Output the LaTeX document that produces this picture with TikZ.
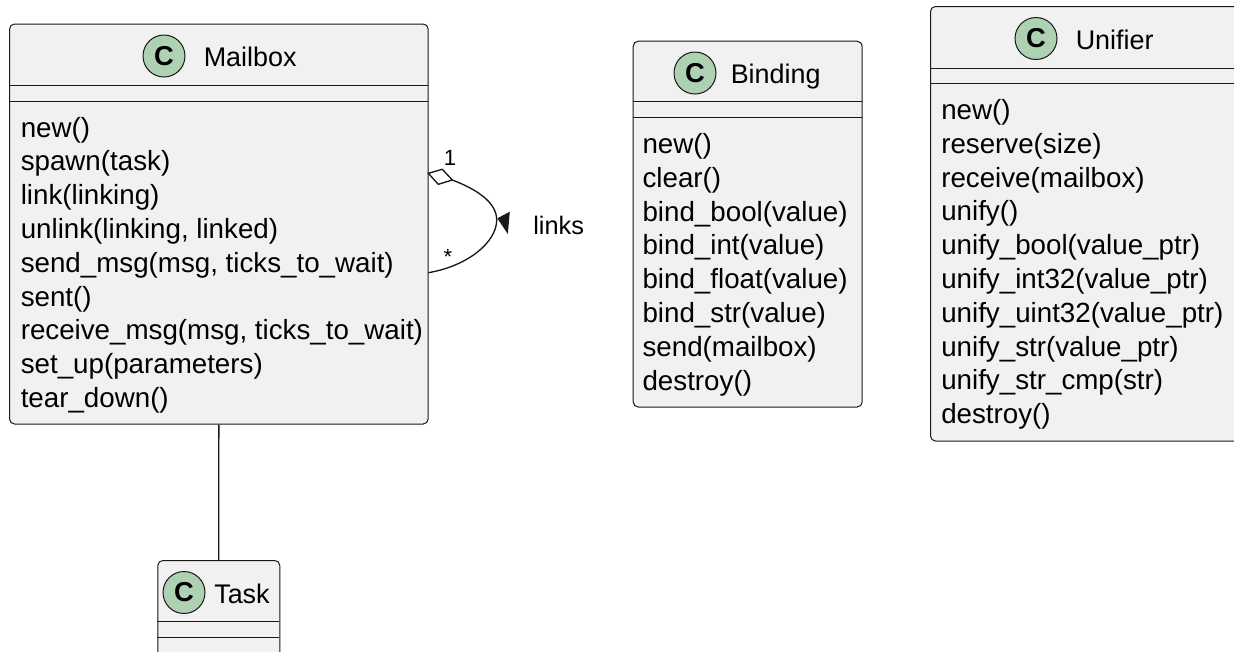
\documentclass[tikz,border=0pt]{standalone}
\usepackage{fontspec}
\setmainfont{Liberation Sans}
\definecolor{boxfill}{HTML}{F1F1F1}
\definecolor{boxline}{HTML}{181818}
\definecolor{spot}{HTML}{ADD1B2}
\begin{document}
\begin{tikzpicture}[x=0.75pt,y=-0.75pt,
  clsbox/.style={draw=boxline,fill=boxfill,line width=0.75pt,rounded corners=3.75pt,
    rectangle,anchor=north west,inner sep=0pt},
  sepline/.style={draw=boxline,line width=0.75pt},
  spotc/.style={circle,draw=boxline,fill=spot,line width=0.75pt,minimum size=31.5pt,inner sep=0pt,
    font=\bfseries\fontsize{20.5}{20.5}\selectfont},
  ttl/.style={anchor=base west,inner sep=0pt,font=\fontsize{20.2}{24}\selectfont,text=black},
  meth/.style={anchor=base west,inner sep=0pt,font=\fontsize{20.8}{24}\selectfont,text=black},
  conn/.style={draw=boxline,line width=1pt},
  lbl/.style={inner sep=0pt,text=black}]
\useasboundingbox (0,0) rectangle (1234,651);
\clip (0,0) rectangle (1234,651);
% Mailbox
\node[clsbox,minimum width=314pt,minimum height=300pt] (mailbox) at (9,23.5) {};
\node[spotc] (cm) at (164,56) {C};
\node[ttl] (tm) at (203.5,66.5) {Mailbox};
\draw[sepline] (9,85.7) -- (427.7,85.7);
\draw[sepline] (9,101) -- (427.7,101);
\foreach \t [count=\i from 0] in {new(),spawn(task),link(linking),{unlink(linking, linked)},
  {send\_msg(msg, ticks\_to\_wait)},sent(),{receive\_msg(msg, ticks\_to\_wait)},
  set\_up(parameters),tear\_down()}
  \node[meth] (mm\i) at (20.5,{137+33.8*\i}) {\t};
% Binding
\node[clsbox,minimum width=171.75pt,minimum height=274.35pt] (binding) at (632.7,40.7) {};
\node[spotc] (cb) at (695,73) {C};
\node[ttl] (tb) at (730.5,83.5) {Binding};
\draw[sepline] (632.7,101.7) -- (861.7,101.7);
\draw[sepline] (632.7,117.3) -- (861.7,117.3);
\foreach \t [count=\i from 0] in {new(),clear(),bind\_bool(value),bind\_int(value),
  bind\_float(value),bind\_str(value),send(mailbox),destroy()}
  \node[meth] (bm\i) at (642.3,{153.5+33.8*\i}) {\t};
% Unifier
\node[clsbox,minimum width=232.5pt,minimum height=325.9pt] (unifier) at (930,6) {};
\node[spotc] (cu) at (1036,38.5) {C};
\node[ttl] (tu) at (1075.5,49) {Unifier};
\draw[sepline] (930,68.3) -- (1240,68.3);
\draw[sepline] (930,83.5) -- (1240,83.5);
\foreach \t [count=\i from 0] in {new(),reserve(size),receive(mailbox),unify(),
  unify\_bool(value\_ptr),unify\_int32(value\_ptr),unify\_uint32(value\_ptr),
  unify\_str(value\_ptr),unify\_str\_cmp(str),destroy()}
  \node[meth] (um\i) at (941,{119.5+33.8*\i}) {\t};
% Task
\node[clsbox,minimum width=91.5pt,minimum height=82.5pt] (task) at (157.3,560) {};
\node[spotc] (ct) at (184,592.5) {C};
\node[ttl] (tt) at (214,603) {Task};
\draw[sepline] (157.3,621.7) -- (279.3,621.7);
\draw[sepline] (157.3,637.3) -- (279.3,637.3);
% Mailbox -- Task
\draw[conn] (mailbox.south) -- (task.north);
% self association
\coordinate (d0) at (428.3,173.3);
\coordinate (d1) at (442.3,169.3);
\coordinate (d2) at (452.3,180);
\coordinate (d3) at (438.3,184.3);
\coordinate (lp) at (496.7,220);
\coordinate (le) at (428.3,272.7);
\draw[conn] (d2) .. controls (476,189) and (496.7,202) .. (lp)
  .. controls (496.7,242) and (468,266) .. (le);
\draw[conn,fill=white,line join=miter] (d0) -- (d1) -- (d2) -- (d3) -- cycle;
\coordinate (t0) at (497.3,218.3);
\coordinate (t1) at (509.8,211.7);
\coordinate (t2) at (507.8,234);
\fill[boxline] (t0) -- (t1) -- (t2) -- cycle;
\node[lbl,font=\fontsize{16.5}{16.5}\selectfont] (one) at (450,158) {1};
\node[lbl,font=\fontsize{16.5}{16.5}\selectfont] (star) at (448,257) {*};
\node[lbl,anchor=west,font=\fontsize{19}{19}\selectfont] (links) at (533,225) {links};
\end{tikzpicture}
\end{document}
